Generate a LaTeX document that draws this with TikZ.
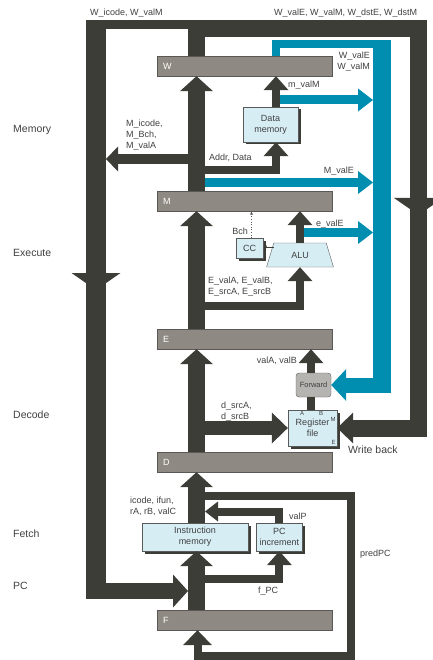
\documentclass[tikz,border=0pt]{standalone}
\usepackage{fontspec}
\setmainfont{Liberation Sans}
\usetikzlibrary{positioning,arrows.meta,shapes.geometric,shadows}
\definecolor{pipebus}{RGB}{61,61,56}
\definecolor{pipefwd}{RGB}{0,142,176}
\definecolor{piperegbg}{RGB}{142,138,131}
\definecolor{piperegdraw}{RGB}{90,88,84}
\definecolor{pipeunitbg}{RGB}{214,237,244}
\definecolor{pipeunitdraw}{RGB}{90,90,90}
\definecolor{pipefwdbg}{RGB}{182,180,176}
\definecolor{pipetext}{RGB}{64,64,64}

\begin{document}
\begin{tikzpicture}[x=1pt,y=-1pt,
  every node/.style={font=\fontsize{9}{11}\selectfont,text=pipetext,inner sep=0pt},
  preg/.style={rectangle,draw=piperegdraw,fill=piperegbg,minimum width=175pt,minimum height=20pt,text width=163pt,align=left,text=white},
  unit/.style={rectangle,draw=pipeunitdraw,fill=pipeunitbg,align=center,drop shadow={shadow xshift=2.5pt,shadow yshift=-2.5pt,fill=pipebus,opacity=1}},
  stage/.style={font=\fontsize{10.5}{12}\selectfont,anchor=west},
  lbl/.style={align=left,anchor=west},
  tiny/.style={font=\fontsize{6}{7}\selectfont},
  bus/.style={draw=pipebus,line width=17pt},
  wire/.style={draw=pipebus,line width=8pt},
  fwd/.style={draw=pipefwd,line width=9pt},
  bigtip/.style={-{Triangle[width=33pt,length=15pt,line width=0pt]}},
  widetip/.style={-{Triangle[width=49pt,length=17pt,line width=0pt]}},
  midtip/.style={-{Triangle[width=31pt,length=16pt,line width=0pt]}},
  smalltip/.style={-{Triangle[width=25pt,length=14pt,line width=0pt]}},
  fwdtip/.style={-{Triangle[width=23pt,length=15pt,line width=0pt]}}
]
\useasboundingbox (0,0) rectangle (432,660);

% pipeline registers
\node[preg] (W) at (244.5,66) {W};
\node[preg] (M) at (244.5,201) {M};
\node[preg] (E) at (244.5,339) {E};
\node[preg] (D) at (244.5,462) {D};
\node[preg] (F) at (244.5,620) {F};

% units
\node[unit,minimum width=106pt,minimum height=28pt] (imem) at (195,537) {Instruction\\memory};
\node[unit,minimum width=46pt,minimum height=28pt,right=8pt of imem] (pcinc) {PC\\increment};
\node[unit,minimum width=55pt,minimum height=35pt] (dmem) at (270.5,124.5) {Data\\memory};
\node[unit,minimum width=49pt,minimum height=36pt] (regfile) at (312.5,428) {Register\\file};
\node[rectangle,rounded corners=3pt,draw=pipeunitdraw,fill=pipefwdbg,minimum width=35pt,minimum height=24pt,font=\fontsize{7.5}{9}\selectfont] (forward) at (313.5,385) {Forward};
\node[trapezium,trapezium angle=69,trapezium stretches=true,draw=pipeunitdraw,fill=pipeunitbg,minimum width=67pt,minimum height=24pt] (alu) at (300,255) {ALU};
\node[unit,minimum width=27pt,minimum height=20pt] (cc) at (249.5,248) {CC};
\node[tiny,anchor=north] (rfA) at ([xshift=-10.5pt,yshift=-1.5pt]regfile.north) {A};
\node[tiny,anchor=north] (rfB) at ([xshift=8.5pt,yshift=-1.5pt]regfile.north) {B};
\node[tiny,anchor=north east] (rfM) at ([xshift=-1.5pt,yshift=-7pt]regfile.north east) {M};
\node[tiny,anchor=south east] (rfE) at ([xshift=-1.5pt,yshift=2pt]regfile.south east) {E};

% stage names and signal labels
\node[stage] (lmem) at (13,130) {Memory};
\node[stage] (lexe) at (13,253) {Execute};
\node[stage] (ldec) at (13,415) {Decode};
\node[stage] (lfet) at (13,534) {Fetch};
\node[stage] (lpc) at (13,586) {PC};
\node[stage] (lwb) at (348,450) {Write back};
\node[lbl] (tWi) at (90,13) {W\_icode, W\_valM};
\node[lbl] (tWe) at (274,13) {W\_valE, W\_valM, W\_dstE, W\_dstM};
\node[lbl,align=right,anchor=east] (tWfwd) at (370,61.5) {W\_valE\\W\_valM};
\node[lbl] (tmvalM) at (288,85) {m\_valM};
\node[lbl] (tMi) at (126,135) {M\_icode,\\M\_Bch,\\M\_valA};
\node[lbl] (tAddr) at (209,158) {Addr, Data};
\node[lbl,anchor=east] (tMvalE) at (354,171) {M\_valE};
\node[lbl] (tevalE) at (316,224) {e\_valE};
\node[lbl,anchor=east] (tBch) at (248,231) {Bch};
\node[lbl] (tEval) at (208,286.5) {E\_valA, E\_valB,\\E\_srcA, E\_srcB};
\node[lbl,anchor=east] (tvalAB) at (297,361) {valA, valB};
\node[lbl] (tdsrc) at (221,411.5) {d\_srcA,\\d\_srcB};
\node[lbl] (ticode) at (130,506.5) {icode, ifun,\\rA, rB, valC};
\node[lbl] (tvalP) at (289,516) {valP};
\node[lbl] (tfPC) at (258,591) {f\_PC};
\node[lbl] (tpred) at (360,554) {predPC};

\coordinate (col) at (196.5,0);
\coordinate (dmx) at (276,0);
\coordinate (vab) at (311,0);
\coordinate (fwx) at (382,0);
\coordinate (wbtop) at (418.5,28.5);
\coordinate (alucc) at ([yshift=-4pt]alu.top left corner);
\coordinate (bchx) at ([xshift=2pt]cc.north);

% main datapath column
\draw[bus,bigtip] (F.north -| col) -- (imem.south -| col);
\draw[bus,bigtip] (imem.north -| col) -- (D.south -| col);
\draw[bus,bigtip] (D.north -| col) -- (E.south -| col);
\draw[bus,bigtip] (E.north -| col) -- (M.south -| col);
\draw[bus,bigtip] (M.north -| col) -- (W.south -| col);

% write back to register file
\draw[bus,midtip] (W.north -| col) |- (wbtop) |- (regfile.east);
\draw[bus,widetip] (wbtop |- 0,190) -- (wbtop |- 0,215);
\draw[bus,line width=14pt,midtip] (col |- regfile.west) -- (regfile.west);

% W/M feedback to PC selection
\draw[bus,line width=9pt] (col |- 0,24.5) -- (86,24.5);
\draw[bus,line width=20pt] (96,20) -- (96,599);
\draw[bus,line width=20pt,widetip] (96,260) -- (96,290);
\draw[bus,line width=16pt,bigtip] (86,591) -- (188,591);
\draw[bus,line width=10pt,-{Triangle[width=25pt,length=12pt,line width=0pt]}] (col |- 0,159) -- (106,159);

% memory and execute
\draw[wire,smalltip] (col |- 0,170.5) -| (dmem.south -| dmx);
\draw[wire,smalltip] (dmem.north -| dmx) -- (W.south -| dmx);
\draw[wire,smalltip] (col |- 0,306) -| (alu.south);
\draw[wire,smalltip] (alu.north) -- (M.south -| alu.north);
\draw[pipebus,line width=0.6pt,-{Latex[length=3.5pt,width=3pt]}] (alucc) -- (alucc -| cc.east);
\draw[pipeunitdraw,line width=0.6pt,dotted,-{Latex[length=3.5pt,width=3pt]}] (bchx) -- (bchx |- M.south);

% decode
\draw[wire] (regfile.north -| vab) -- (forward.south -| vab);
\draw[wire,smalltip] (forward.north -| vab) -- (E.south -| vab);

% fetch
\draw[wire,-{Triangle[width=20pt,length=13pt,line width=0pt]}] (pcinc.north) |- (205,511.5);
\draw[wire,smalltip] (col |- 0,578.5) -| (pcinc.south);
\draw[wire,-{Triangle[width=29pt,length=15pt,line width=0pt]}] (col |- 0,496) -| (351,656) -| (F.south -| 197.5,0);

% forwarding paths
\draw[fwd,line width=8pt] (W.north -| dmx) |- (fwx |- 0,44);
\draw[fwd,line width=18pt] (fwx |- 0,40) -- (fwx |- 0,393);
\draw[fwd,line width=15pt,-{Triangle[width=32pt,length=15pt,line width=0pt]}] (fwx |- forward.east) -- (forward.east);
\draw[fwd,fwdtip] (280,100) -- (373,100);
\draw[fwd,fwdtip] (205,182.5) -- (373,182.5);
\draw[fwd,fwdtip] (304,232.5) -- (373,232.5);
\end{tikzpicture}
\end{document}
